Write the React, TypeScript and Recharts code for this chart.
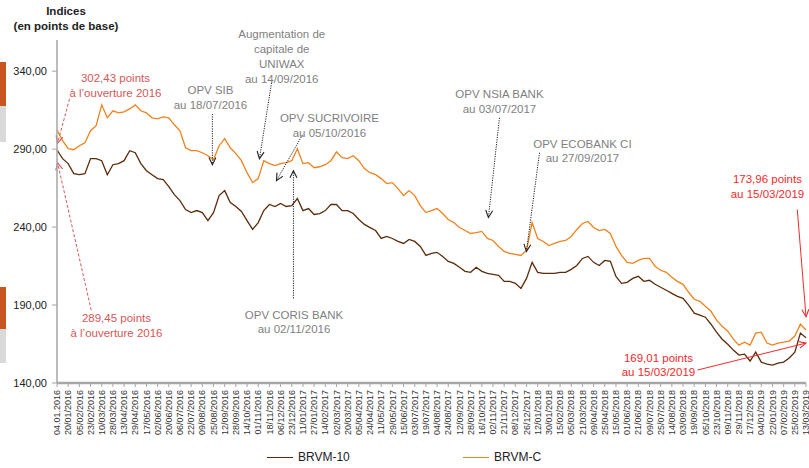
import { LineChart, Line, XAxis, YAxis, Legend, ReferenceLine, ReferenceDot } from "recharts"

// tick labels, one every 12 trading days
const dates = [
  "04.01.2016", "20/01/2016", "05/02/2016", "23/02/2016", "10/03/2016", "28/03/2016", "13/04/2016", "29/04/2016",
  "17/05/2016", "02/06/2016", "20/06/2016", "06/07/2016", "22/07/2016", "09/08/2016", "25/08/2016", "12/09/2016",
  "28/09/2016", "14/10/2016", "01/11/2016", "18/11/2016", "06/12/2016", "23/12/2016", "11/01/2017", "27/01/2017",
  "14/02/2017", "02/03/2017", "20/03/2017", "05/04/2017", "24/04/2017", "11/05/2017", "29/05/2017", "15/06/2017",
  "03/07/2017", "19/07/2017", "04/08/2017", "24/08/2017", "12/09/2017", "28/09/2017", "16/10/2017", "02/11/2017",
  "21/11/2017", "08/12/2017", "26/12/2017", "12/01/2018", "30/01/2018", "15/02/2018", "05/03/2018", "21/03/2018",
  "09/04/2018", "25/04/2018", "15/05/2018", "01/06/2018", "21/06/2018", "09/07/2018", "25/07/2018", "14/08/2018",
  "03/09/2018", "19/09/2018", "05/10/2018", "23/10/2018", "09/11/2018", "29/11/2018", "17/12/2018", "04/01/2019",
  "22/01/2019", "07/02/2019", "25/02/2019", "13/03/2019",
]

// values read every half tick interval (about 6 sessions)
const brvmC = [
  302.4, 295.4, 290.3, 289.6, 292.2, 294.1, 301.8, 305.0, 318.4, 310.1,
  314.6, 313.3, 313.9, 315.8, 318.4, 314.6, 313.3, 310.1, 309.4, 310.7,
  310.1, 305.6, 301.8, 290.9, 289.0, 289.0, 287.7, 285.8, 283.2, 292.2,
  296.7, 290.9, 287.1, 282.6, 274.9, 268.5, 271.1, 282.6, 280.7, 279.4,
  280.7, 281.3, 282.6, 290.3, 280.7, 281.3, 278.1, 278.7, 280.0, 282.6,
  288.3, 284.5, 283.9, 285.8, 282.6, 277.5, 274.9, 273.6, 271.1, 267.9,
  268.5, 264.7, 260.2, 263.4, 260.2, 253.8, 249.3, 250.6, 251.9, 248.7,
  244.9, 242.9, 239.7, 237.8, 235.9, 236.5, 237.2, 232.7, 231.4, 227.6,
  224.4, 223.1, 222.5, 221.8, 225.0, 242.9, 232.7, 230.8, 228.2, 229.5,
  230.8, 231.4, 234.0, 238.5, 242.3, 243.6, 239.7, 237.8, 238.5, 235.9,
  227.6, 221.8, 217.4, 216.7, 218.6, 219.9, 219.9, 214.8, 212.3, 211.0,
  207.8, 205.2, 203.3, 198.2, 193.7, 192.4, 189.2, 186.0, 180.3, 176.4,
  173.2, 168.1, 164.3, 166.2, 164.3, 172.0, 172.6, 165.6, 164.3, 165.6,
  166.2, 166.9, 170.1, 177.7, 173.96,
]

const brvm10 = [
  289.45, 283.9, 280.7, 274.3, 273.6, 274.3, 283.9, 283.9, 282.6, 273.6,
  280.0, 280.7, 282.6, 289.0, 287.7, 280.7, 276.2, 273.6, 271.1, 270.4,
  266.0, 260.8, 257.0, 251.3, 249.3, 250.6, 249.3, 244.2, 249.3, 260.2,
  263.4, 255.7, 253.2, 250.0, 244.2, 238.5, 242.9, 250.6, 254.5, 253.2,
  255.1, 253.2, 253.8, 258.3, 250.6, 251.9, 248.1, 248.7, 250.6, 254.5,
  254.5, 250.6, 250.6, 248.7, 244.9, 241.7, 239.7, 237.8, 232.7, 234.0,
  232.7, 230.8, 229.5, 232.1, 230.8, 227.6, 221.8, 223.1, 223.8, 221.2,
  218.0, 216.7, 214.2, 211.6, 211.0, 214.2, 211.6, 210.3, 209.7, 209.1,
  205.2, 205.2, 203.9, 200.7, 207.1, 217.4, 211.0, 210.3, 210.3, 210.3,
  211.0, 211.0, 212.9, 215.4, 219.9, 221.2, 217.4, 215.4, 218.6, 218.0,
  208.4, 203.9, 204.6, 207.1, 208.4, 205.2, 205.9, 203.3, 201.4, 199.5,
  197.5, 195.6, 194.3, 189.9, 184.8, 183.5, 182.2, 177.7, 172.6, 168.1,
  164.9, 161.1, 157.9, 158.5, 154.1, 159.8, 153.4, 152.1, 151.5, 152.8,
  153.4, 156.0, 159.8, 172.0, 169.01,
]

const yTicks = [140, 190, 240, 290, 340]

const data = brvmC.map((c, k) => ({ i: k / 2, c, b: brvm10[k] }))

const BROWN = "#5b2c0b"
const ORANGE = "#f0821e"
const GREY = "#7f7f7f"
const PINK = "#d45757"
const RED = "#f42a2a"

type Note = { lines: string[]; at: [number, number]; from: [number, number]; to: [number, number]; tone: string }

// annotations: text anchor, arrow start, arrow tip (tick index, index value)
const notes: Note[] = [
  { lines: ["302,43 points", "à l’ouverture 2016"], at: [5.23, 335.7], from: [1.12, 322.2], to: [0.05, 293.8], tone: "pink" },
  { lines: ["289,45 points", "à l’ouverture 2016"], at: [5.32, 181.6], from: [3.06, 186.7], to: [0.05, 281.3], tone: "pink" },
  { lines: ["OPV SIB", "au 18/07/2016"], at: [13.73, 328.0], from: [13.9, 312.6], to: [13.9, 280.0], tone: "grey" },
  { lines: ["Augmentation de", "capitale de", "UNIWAX", "au 14/09/2016"], at: [20.1, 363.6], from: [19.19, 332.5], to: [18.11, 283.9], tone: "grey" },
  { lines: ["OPV SUCRIVOIRE", "au 05/10/2016"], at: [24.37, 309.9], from: [21.96, 299.2], to: [19.63, 269.8], tone: "grey" },
  { lines: ["OPV CORIS BANK", "au 02/11/2016"], at: [21.2, 183.9], from: [21.15, 194.3], to: [21.15, 276.2], tone: "grey" },
  { lines: ["OPV NSIA BANK", "au 03/07/2017"], at: [39.58, 325.2], from: [39.58, 310.1], to: [38.59, 246.1], tone: "grey" },
  { lines: ["OPV ECOBANK CI", "au 27/09/2017"], at: [47.0, 293.5], from: [43.16, 287.7], to: [41.99, 224.4], tone: "grey" },
  { lines: ["173,96 points", "au 15/03/2019"], at: [63.55, 270.9], from: [66.22, 251.3], to: [67, 182.5], tone: "red" },
  { lines: ["169,01 points", "au 15/03/2019"], at: [53.8, 156.2], from: [57.29, 148.3], to: [67, 165.6], tone: "red" },
]

const toneText: Record<string, string> = { pink: PINK, grey: GREY, red: RED }
const toneLine: Record<string, { stroke: string; dash?: string }> = {
  pink: { stroke: PINK, dash: "3 2" },
  grey: { stroke: "#222", dash: "1.2 1.2" },
  red: { stroke: RED },
}

const legendItems = [
  { name: "BRVM-10", color: BROWN, left: 267 },
  { name: "BRVM-C", color: ORANGE, left: 463 },
]

const arrowShape = (tone: string) => (p: any) => {
  const { x1, y1, x2, y2 } = p
  const st = toneLine[tone]
  const a = Math.atan2(y2 - y1, x2 - x1)
  const L = 8
  const s = 0.45
  const h1x = x2 - L * Math.cos(a - s)
  const h1y = y2 - L * Math.sin(a - s)
  const h2x = x2 - L * Math.cos(a + s)
  const h2y = y2 - L * Math.sin(a + s)
  return (
    <g>
      <line x1={x1} y1={y1} x2={x2} y2={y2} stroke={st.stroke} strokeWidth={1} strokeDasharray={st.dash} />
      <path d={`M${h1x},${h1y}L${x2},${y2}L${h2x},${h2y}`} fill="none" stroke={st.stroke} strokeWidth={1.1} />
    </g>
  )
}

const noteText = (n: Note) => (p: any) => (
  <text x={p.cx} y={p.cy} textAnchor="middle" fontSize={11.5} fill={toneText[n.tone]}>
    {n.lines.map((t, k) => (
      <tspan key={k} x={p.cx} y={p.cy + k * 14.7} dy="0.35em">
        {t}
      </tspan>
    ))}
  </text>
)

const DateTick = ({ x, y, payload }: any) => (
  <text transform={`translate(${x},${y}) rotate(-90)`} textAnchor="end" dy="0.35em" fontSize={9} fill="#333">
    {dates[payload.value]}
  </text>
)

const renderLegend = () => (
  <div style={{ position: "relative", height: 20, width: 809 }}>
    {legendItems.map((item) => (
      <div
        key={item.name}
        style={{ position: "absolute", left: item.left, top: 2, display: "flex", alignItems: "center", fontSize: 12, color: "#222" }}
      >
        <span style={{ display: "inline-block", width: 26, borderTop: `1.5px solid ${item.color}`, marginRight: 5 }} />
        {item.name}
      </div>
    ))}
  </div>
)

export default function App() {
  return (
    <div
      style={{
        position: "absolute", left: 0, top: 0, width: 809, height: 468, overflow: "hidden",
        background: "#fff", fontFamily: "'Liberation Sans', Arial, sans-serif",
      }}
    >
      <div style={{ position: "absolute", left: 0, top: 62, width: 6, height: 44, background: "#c8561e" }} />
      <div style={{ position: "absolute", left: 0, top: 106, width: 6, height: 36, background: "#d9d9d9" }} />
      <div style={{ position: "absolute", left: 0, top: 287, width: 6, height: 42, background: "#c8561e" }} />
      <div style={{ position: "absolute", left: 0, top: 329, width: 6, height: 34, background: "#d9d9d9" }} />
      <div
        style={{
          position: "absolute", left: 10, top: 4, width: 112, textAlign: "center",
          fontWeight: "bold", fontSize: 11.5, lineHeight: "15px", color: "#222",
        }}
      >
        Indices
        <br />
        (en points de base)
      </div>
      <LineChart width={809} height={468} data={data} margin={{ top: 40, right: 3, bottom: 0, left: 0 }}>
        <XAxis
          type="number"
          dataKey="i"
          domain={[0, 67]}
          ticks={dates.map((_, k) => k)}
          interval={0}
          height={65}
          tick={<DateTick />}
          tickSize={4}
          tickMargin={3}
          axisLine={{ stroke: "#a6a6a6", strokeWidth: 2.5 }}
          tickLine={{ stroke: "#a6a6a6" }}
        />
        <YAxis
          domain={[140, 360]}
          ticks={yTicks}
          width={57}
          tickSize={5}
          tickMargin={5}
          tickFormatter={(v: number) => v.toFixed(2).replace(".", ",")}
          tick={{ fontSize: 11, fill: "#222" }}
          axisLine={{ stroke: "#a6a6a6", strokeWidth: 1.5 }}
          tickLine={{ stroke: "#a6a6a6" }}
        />
        <Legend verticalAlign="bottom" content={renderLegend} wrapperStyle={{ left: 0, width: 809, bottom: 0 }} />
        <Line type="linear" dataKey="b" name="BRVM-10" stroke={BROWN} strokeWidth={1.3} dot={false} isAnimationActive={false} />
        <Line type="linear" dataKey="c" name="BRVM-C" stroke={ORANGE} strokeWidth={1.3} dot={false} isAnimationActive={false} />
        {notes.map((n, k) => (
          <ReferenceLine
            key={`a${k}`}
            segment={[{ x: n.from[0], y: n.from[1] }, { x: n.to[0], y: n.to[1] }]}
            ifOverflow="visible"
            shape={arrowShape(n.tone)}
          />
        ))}
        {notes.map((n, k) => (
          <ReferenceDot key={`t${k}`} x={n.at[0]} y={n.at[1]} r={0} ifOverflow="visible" shape={noteText(n)} />
        ))}
      </LineChart>
    </div>
  )
}
